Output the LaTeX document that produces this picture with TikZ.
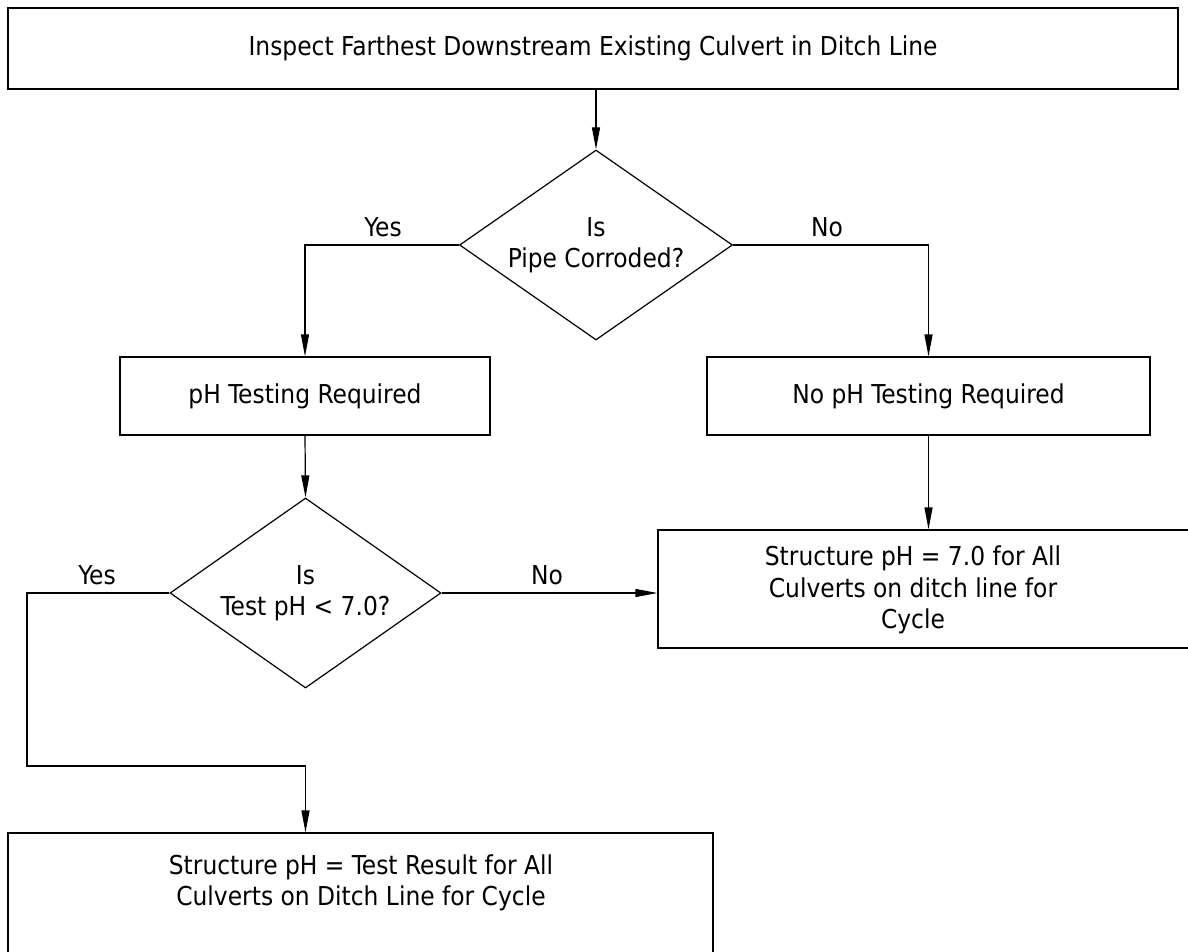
\documentclass[tikz,border=0pt]{standalone}
\usepackage{fontspec}
\setmainfont{DejaVu Sans Condensed}
\usetikzlibrary{arrows.meta}
\usetikzlibrary{shapes.geometric}
\usetikzlibrary{positioning}
\tikzset{box/.style = {draw, rectangle, inner sep = 0, align = center}}
\tikzset{decision/.style = {draw, diamond, inner sep = 0, aspect = 1.43, align = center}}
\tikzset{link/.style = {-{Triangle[length = 22pt, width = 8pt]}}}
\tikzset{tag/.style = {inner sep = 0}}

\begin{document}
\begin{tikzpicture}[x = 1pt, y = -1pt, line width = 1.2pt, font = \fontsize{26}{31.5}\selectfont]
      \useasboundingbox (0, 0) rectangle (1188, 952);
      \clip (0, 0) rectangle (1188, 952);

      \node [box, minimum width = 1170pt, minimum height = 81pt] (inspect) at (593, 48.5) {Inspect Farthest Downstream Existing Culvert in Ditch Line};
      \node [decision, minimum width = 273pt, minimum height = 190pt] (corroded) at (596, 245) {Is\\Pipe Corroded?};
      \node [box, minimum width = 370pt, minimum height = 78pt] (phreq) at (305, 396) {pH Testing Required};
      \node [box, minimum width = 443pt, minimum height = 78pt] (nophreq) at (928.5, 396) {No pH Testing Required};
      \node [decision, minimum width = 271pt, minimum height = 190pt] (testph) at (305.5, 593) {Is\\Test pH < 7.0?};

      % boxes run past the page edge
      \node [box, minimum width = 600pt, minimum height = 118pt] (sevenbox) at (958, 589) {};
      \node [tag, align = center] (seventxt) at (913, 590) {Structure pH = 7.0 for All\\Culverts on ditch line for\\Cycle};
      \node [box, minimum width = 705pt, minimum height = 200pt] (resultbox) at (360.5, 933) {};
      \node [tag, align = center] (resulttxt) at (361, 883) {Structure pH = Test Result for All\\Culverts on Ditch Line for Cycle};

      \coordinate (yesbend) at (27, 766);
      \coordinate (yesdrop) at (305.5, 766);

      \draw [link] (corroded.north |- inspect.south) -- (corroded.north);
      \draw [link] (corroded.west) -| (phreq.north);
      \draw [link] (corroded.east) -| (nophreq.north);
      \draw [link] (phreq.south) -- (testph.north);
      \draw [link] (nophreq.south) -- (nophreq.south |- sevenbox.north);
      \draw [link] (testph.east) -- (testph.east -| sevenbox.west);
      \draw [link] (testph.west) -| (yesbend) -- (yesdrop) -- (yesdrop |- resultbox.north);

      \node [tag] (yesone) at (383, 227) {Yes};
      \node [tag] (noone) at (827, 227) {No};
      \node [tag] (notwo) at (547, 575) {No};
      \node [tag] (yestwo) at (97, 575) {Yes};
    \end{tikzpicture}
\end{document}
